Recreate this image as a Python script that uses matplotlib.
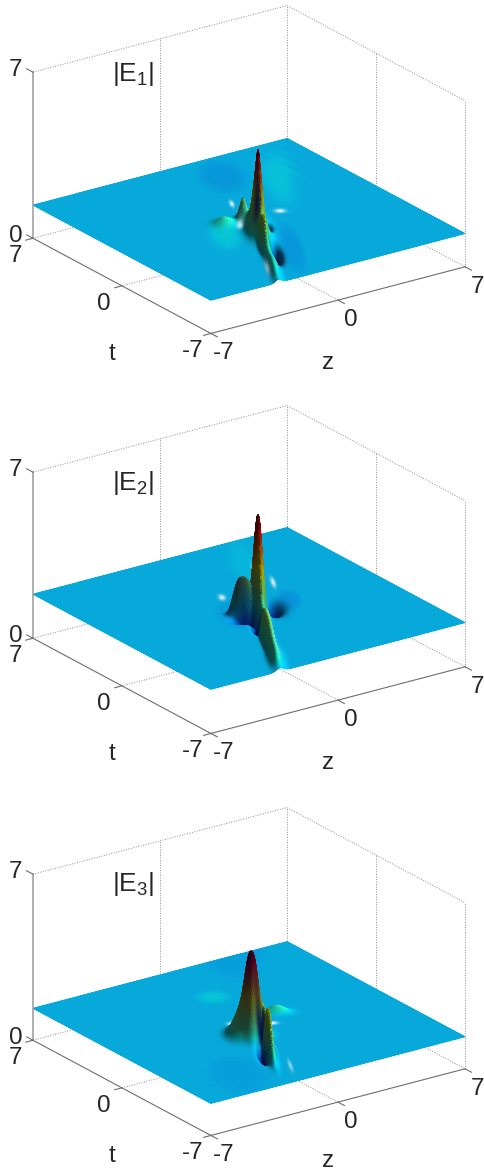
from __future__ import annotations

import matplotlib
matplotlib.use("Agg")
import matplotlib.pyplot as plt
import numpy as np
from mpl_toolkits.mplot3d import proj3d

plt.rcParams["font.family"] = ["Liberation Sans", "DejaVu Sans"]
plt.rcParams["mathtext.default"] = "regular"

W_PX, H_PX = 485, 1172
TICKS = [-7, 0, 7]
Z_TICKS = [0, 7]
AZ, EL = -125, 22
ASPECT = (310, 310, 179)
AX_SIZE = 460
RIDGE_ANGLE = np.arctan(0.53)  # long axis of every feature runs along the wave ridge

# box centre of each panel, pixels from the top of the image
BOX_CY = [169.5, 569.5, 971.5]
LEVELS = [1.40, 1.86, 1.35]
PEAK_RISE = [3.6, 4.05, 3.6]
TITLES = [r"|E$_1$|", r"|E$_2$|", r"|E$_3$|"]
TITLE_H = [5.8, 5.45, 5.5]
Z_LABEL_H = [0, 0, 0.17]

# surface features, one set of columns per panel
E1_BUMP_Z = [-0.53, -1.42, -2.40, -0.40, -1.27, -1.50, -0.10, -0.85]
E1_BUMP_T = [-1.47, -3.20, -5.30, -0.09, 0.07, -4.33, -1.50, -1.90]
E1_BUMP_A = [3.60, 1.20, 0.35, 0.95, 0.30, -0.50, -0.70, -0.50]
E1_BUMP_L = [0.75, 0.90, 2.00, 0.35, 0.50, 0.90, 0.50, 0.40]
E1_BUMP_W = [0.25, 0.15, 0.20, 0.20, 0.45, 0.20, 0.20, 0.20]
E1_BUMP_P = [0.70, 1.00, 1.00, 0.80, 1.00, 1.00, 1.00, 1.00]
E1_TONE_Z = [0.37, 1.15, 1.67, -0.92, -2.80, -1.50, -0.10, -0.85]
E1_TONE_T = [1.88, 1.34, -0.06, -0.61, -5.45, -4.33, -1.50, -1.90]
E1_TONE_A = [0.90, 0.60, 0.90, 0.80, 0.50, -0.55, -0.60, -0.70]
E1_TONE_L = [0.40, 0.40, 0.25, 0.30, 0.80, 0.80, 0.40, 0.35]
E1_TONE_W = [0.10, 0.08, 0.25, 0.15, 0.10, 0.16, 0.20, 0.15]
E1_TINT_Z = [3.8, 1.9, -0.48, -1.97]
E1_TINT_T = [3.2, 4.8, -4.07, -0.92]
E1_TINT_A = [0.025, -0.022, -0.022, 0.03]
E1_TINT_L = [3.0, 2.0, 3.0, 1.8]
E1_TINT_W = [0.7, 1.1, 0.5, 0.7]

E2_BUMP_Z = [0.20, -1.40, -2.60, -0.70, -1.09, 0.90, -0.95]
E2_BUMP_T = [-0.43, -3.40, -5.80, -0.50, -2.20, -0.65, -1.15]
E2_BUMP_A = [4.05, 1.10, 0.50, 1.60, -0.60, -0.50, -0.60]
E2_BUMP_L = [1.00, 1.90, 1.20, 0.35, 0.60, 0.80, 0.30]
E2_BUMP_W = [0.24, 0.22, 0.25, 0.50, 0.20, 0.40, 0.50]
E2_BUMP_P = [1.00, 1.40, 1.00, 1.50, 1.00, 1.00, 1.00]
E2_TONE_Z = [-0.31, 2.63, 2.90, -1.95, -1.09, 0.90, -0.95, -0.70]
E2_TONE_T = [1.69, 1.86, 3.86, -4.83, -2.20, -0.65, -1.15, -0.50]
E2_TONE_A = [0.90, 0.90, 0.35, 0.90, -0.70, -0.50, -0.70, -0.55]
E2_TONE_L = [0.35, 0.60, 0.50, 1.10, 0.50, 0.70, 0.30, 0.40]
E2_TONE_W = [0.15, 0.10, 0.08, 0.08, 0.20, 0.30, 0.40, 0.50]
E2_TINT_Z = [-0.80, 2.07, 2.90]
E2_TINT_T = [-0.40, -0.26, 4.50]
E2_TINT_A = [-0.022, -0.025, 0.015]
E2_TINT_L = [1.80, 1.20, 2.50]
E2_TINT_W = [1.00, 0.50, 0.60]

E3_BUMP_Z = [-0.75, -0.98, -1.05, -0.90, -1.75, 1.70]
E3_BUMP_T = [-1.30, -1.30, -3.00, -2.20, -3.60, 0.22]
E3_BUMP_A = [2.20, 1.40, 1.70, -0.80, -0.70, 0.30]
E3_BUMP_L = [1.00, 0.90, 1.50, 0.50, 0.80, 0.35]
E3_BUMP_W = [0.36, 0.70, 0.15, 0.30, 0.20, 0.50]
E3_BUMP_P = [1.20, 1.30, 1.00, 1.00, 1.00, 1.00]
E3_TONE_Z = [-0.80, 0.75, -1.50, -0.90, -1.75, -0.98]
E3_TONE_T = [0.19, -0.74, -5.40, -2.20, -3.60, -1.60]
E3_TONE_A = [1.00, 1.00, 0.60, -0.70, -0.70, -0.45]
E3_TONE_L = [0.25, 0.20, 0.70, 0.40, 0.70, 0.60]
E3_TONE_W = [0.20, 0.25, 0.08, 0.25, 0.18, 0.50]
E3_TINT_Z = [-4.2, 3.9, 0.36, 1.70]
E3_TINT_T = [-4.9, 7.0, 3.36, 0.22]
E3_TINT_A = [-0.014, -0.014, 0.03, 0.03]
E3_TINT_L = [2.5, 3.0, 0.7, 0.5]
E3_TINT_W = [1.5, 1.4, 0.7, 0.6]

BUMPS = [
    (E1_BUMP_Z, E1_BUMP_T, E1_BUMP_A, E1_BUMP_L, E1_BUMP_W, E1_BUMP_P),
    (E2_BUMP_Z, E2_BUMP_T, E2_BUMP_A, E2_BUMP_L, E2_BUMP_W, E2_BUMP_P),
    (E3_BUMP_Z, E3_BUMP_T, E3_BUMP_A, E3_BUMP_L, E3_BUMP_W, E3_BUMP_P),
]
TONES = [
    (E1_TONE_Z, E1_TONE_T, E1_TONE_A, E1_TONE_L, E1_TONE_W),
    (E2_TONE_Z, E2_TONE_T, E2_TONE_A, E2_TONE_L, E2_TONE_W),
    (E3_TONE_Z, E3_TONE_T, E3_TONE_A, E3_TONE_L, E3_TONE_W),
]
TINTS = [
    (E1_TINT_Z, E1_TINT_T, E1_TINT_A, E1_TINT_L, E1_TINT_W),
    (E2_TINT_Z, E2_TINT_T, E2_TINT_A, E2_TINT_L, E2_TINT_W),
    (E3_TINT_Z, E3_TINT_T, E3_TINT_A, E3_TINT_L, E3_TINT_W),
]

AXIS_COLOR = "#6e6e6e"
GRID_COLOR = "#8c8c8c"
TEXT_COLOR = "#262626"
LIGHT = np.array([0.5, -0.5, 0.71])


def blob(Z, T, z0, t0, long_s, wide_s, p=1.0):
    dz, dt = Z - z0, T - t0
    u = dt * np.cos(RIDGE_ANGLE) + dz * np.sin(RIDGE_ANGLE)
    v = dz * np.cos(RIDGE_ANGLE) - dt * np.sin(RIDGE_ANGLE)
    return np.exp(-(((u / long_s) ** 2 + (v / wide_s) ** 2) ** p))


def surface_colors(Z, T, H, level, rise, tones, tints):
    v = 0.32 + 0.68 * (H - level) / rise
    for z0, t0, a, ls, ws in zip(*tints):
        v += a * blob(Z, T, z0, t0, ls, ws, 2.0)
    v = np.clip(v, 0, 1)
    rgb = plt.get_cmap("jet")(v)[..., :3]
    gt, gz = np.gradient(H, T[:, 0], Z[0, :])
    norm = np.sqrt(gz**2 + gt**2 + 1)
    ratio = np.clip((-gz * LIGHT[0] - gt * LIGHT[1] + LIGHT[2]) / norm / LIGHT[2], 0, None)
    bright = np.clip(0.86 * (0.4 + 0.6 * ratio) * (1 - 0.3 * (1 - 1 / norm)), 0, 1)
    rgb = rgb * bright[..., None]
    rgb[..., 0] += 0.04 * (1 - v)
    tone = np.zeros_like(H)
    for z0, t0, a, ls, ws in zip(*tones):
        tone += a * blob(Z, T, z0, t0, ls, ws)
    white = np.clip(tone, 0, 1)[..., None]
    dark = np.clip(-tone, 0, 1)[..., None]
    rgb = rgb * (1 - white) + white
    rgb = rgb * (1 - dark) + dark * np.array([0.0, 0.0, 0.25])
    return np.clip(rgb, 0, 1)


def draw_box(ax):
    dotted = dict(color=GRID_COLOR, lw=0.7, ls=(0, (1, 1.6)), zorder=1)
    ax.plot([-7, 7, 7], [7, 7, -7], [7, 7, 7], **dotted)
    ax.plot([-7, 7, 7], [7, 7, -7], [0, 0, 0], **dotted)
    ax.plot([7, 7], [7, 7], [0, 7], **dotted)
    ax.plot([7, 7], [-7, -7], [0, 7], **dotted)
    ax.plot([0, 0], [7, 7], [0, 7], **dotted)
    ax.plot([7, 7], [0, 0], [0, 7], **dotted)
    ax.plot([0, 0], [-7, 7], [0, 0], **dotted)
    ax.plot([-7, 7], [0, 0], [0, 0], **dotted)

    solid = dict(color=AXIS_COLOR, lw=0.8, zorder=3)
    ax.plot([-7, -7], [7, 7], [0, 7], color="#9a9a9a", lw=1.1, zorder=3)
    ax.plot([-7, -7], [-7, 7], [0, 0], **solid)
    ax.plot([-7, 7], [-7, -7], [0, 0], **solid)
    for tick in TICKS:
        ax.plot([-7, -7.4], [tick, tick], [0, 0], **solid)
        ax.plot([tick, tick], [-7, -7.5], [0, 0], **solid)
    for tick in Z_TICKS:
        ax.plot([-7, -7], [7, 7.5], [tick, tick], **solid)


def put_text(ax, x, y, z, s, **kw):
    # plain 2D text anchored on the projected 3D position
    px, py, _ = proj3d.proj_transform(x, y, z, ax.get_proj())
    ax.text2D(px, py, s, transform=ax.transData, ha="center", va="center", color=TEXT_COLOR, **kw)


def draw_labels(ax, title, title_h, z_label_h):
    for tick in TICKS:
        put_text(ax, tick - 0.9, -9.3, 0, str(tick), fontsize=17.5)
        put_text(ax, -8.9, tick - 1.3, 0, str(tick), fontsize=17.5)
    for tick in Z_TICKS:
        put_text(ax, -7.5, 7.64, tick, str(tick), fontsize=17.5)
    put_text(ax, -12.1, -6.5, 0, "t", fontsize=17.5)
    put_text(ax, -4.7, -12.9, z_label_h, "z", fontsize=17.5)
    put_text(ax, -1.5, 7, title_h, title, fontsize=19)


def main():
    z_axis = np.concatenate([np.arange(-7, -4.5, 0.5), np.arange(-4.5, 4.5, 0.05), np.arange(4.5, 7.01, 0.5)])
    t_axis = np.concatenate([np.arange(-7, 7, 0.0625), [7.0]])
    Z, T = np.meshgrid(z_axis, t_axis)

    fig = plt.figure(figsize=(W_PX / 100, H_PX / 100), dpi=100)
    side = AX_SIZE / W_PX, AX_SIZE / H_PX
    for i in range(3):
        left = (249 - 0.5135 * AX_SIZE) / W_PX
        bottom = (H_PX - BOX_CY[i] - 0.5135 * AX_SIZE) / H_PX
        ax = fig.add_axes([left, bottom, side[0], side[1]], projection="3d", proj_type="ortho")
        ax.patch.set_alpha(0)
        ax.set_axis_off()
        ax.computed_zorder = False
        ax.view_init(elev=EL, azim=AZ)
        ax.set_box_aspect(ASPECT, zoom=1)
        ax.set_xlim(-7, 7, view_margin=0)
        ax.set_ylim(-7, 7, view_margin=0)
        ax.set_zlim(0, 7, view_margin=0)

        H = np.full_like(Z, LEVELS[i])
        for z0, t0, a, ls, ws, p in zip(*BUMPS[i]):
            H += a * blob(Z, T, z0, t0, ls, ws, p)
        colors = surface_colors(Z, T, H, LEVELS[i], PEAK_RISE[i], TONES[i], TINTS[i])

        draw_box(ax)
        ax.plot_surface(Z, T, H, facecolors=colors, rstride=1, cstride=1, shade=False,
                        linewidth=0.6, antialiased=True, zorder=2)
        draw_labels(ax, TITLES[i], TITLE_H[i], Z_LABEL_H[i])

    fig.savefig("out.png", dpi=100)


if __name__ == "__main__":
    main()
